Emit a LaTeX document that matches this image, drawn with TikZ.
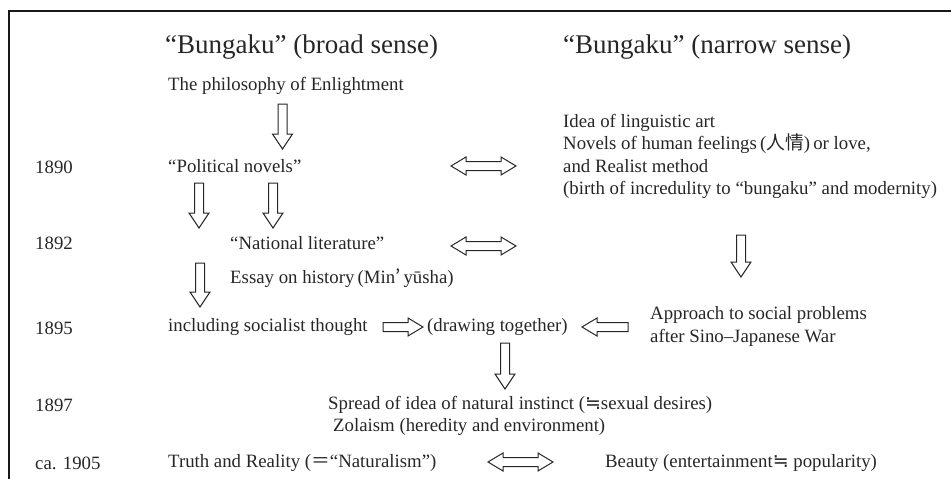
\documentclass[tikz,border=0pt]{standalone}
\usepackage{fontspec}
\setmainfont{Liberation Serif}
\newfontfamily\cjk{Noto Sans CJK JP}
\newfontfamily\symf{DejaVu Sans}
% block arrows (all numbers in px of the reference)
\newcommand\myDown[3]{% x, ytop, ytip
  \draw[blk] ({#1-4.5},#2) -- ({#1+4.5},#2) -- ({#1+4.5},{#3-15}) -- ({#1+10},{#3-15})
    -- (#1,#3) -- ({#1-10},{#3-15}) -- ({#1-4.5},{#3-15}) -- cycle;}
\newcommand\myRight[3]{% xtail, xtip, y
  \draw[blk] (#1,{#3-4.5}) -- ({#2-15},{#3-4.5}) -- ({#2-15},{#3-9}) -- (#2,#3)
    -- ({#2-15},{#3+9}) -- ({#2-15},{#3+4.5}) -- (#1,{#3+4.5}) -- cycle;}
\newcommand\myLeft[3]{% xtip, xtail, y
  \draw[blk] (#2,{#3-4.5}) -- ({#1+15},{#3-4.5}) -- ({#1+15},{#3-9}) -- (#1,#3)
    -- ({#1+15},{#3+9}) -- ({#1+15},{#3+4.5}) -- (#2,{#3+4.5}) -- cycle;}
\newcommand\myBoth[3]{% x1, x2, y
  \draw[blk] (#1,#3) -- ({#1+15},{#3-9}) -- ({#1+15},{#3-4.5}) -- ({#2-15},{#3-4.5})
    -- ({#2-15},{#3-9}) -- (#2,#3) -- ({#2-15},{#3+9}) -- ({#2-15},{#3+4.5})
    -- ({#1+15},{#3+4.5}) -- ({#1+15},{#3+9}) -- cycle;}
\newcommand\approxim{{\symf\fontsize{19}{22}\selectfont ≒}}
\begin{document}
\begin{tikzpicture}[x=1pt,y=-1pt,
  txt/.style={anchor=west,inner sep=0pt,font=\fontsize{18.8}{22.3}\selectfont,text=black!85,align=left},
  hd/.style={anchor=west,inner sep=0pt,font=\fontsize{27}{31}\selectfont,text=black!85},
  blk/.style={draw=black!85,line width=1pt,fill=white,line join=miter}]
\useasboundingbox (0,0) rectangle (951,479);
\draw[line width=2pt,black!90] (9,479) -- (9,11) -- (951,11);

% headings
\node[hd] (hb) at (165,47) {“Bungaku” (broad sense)};
\node[hd] (hn) at (563,47) {“Bungaku” (narrow sense)};

% years
\node[txt] (y1890) at (35,167) {1890};
\node[txt] (y1892) at (35,243) {1892};
\node[txt] (y1895) at (35,328) {1895};
\node[txt] (y1897) at (35,405) {1897};
\node[txt] (y1905) at (35,463) {ca. 1905};

% left column
\node[txt] (enl) at (168,86) {The philosophy of Enlightment};
\node[txt] (pol) at (168,166) {“Political novels”};
\node[txt] (nat) at (230,243) {“National literature”};
\node[txt] (ess) at (230,278) {Essay on history\,(Min{\cjk ’}\,yūsha)};
\node[txt] (soc) at (168,327) {including socialist thought};
\node[txt] (draw) at (427,327) {(drawing together)};
\node[txt] (spr) at (328,405) {Spread of idea of natural instinct (\approxim sexual desires)};
\node[txt] (zol) at (333,427) {Zolaism (heredity and environment)};
\node[txt] (tru) at (168,463) {Truth and Reality ({\cjk ＝}“Naturalism”)};

% right column
\node[txt] (idea) at (563,156.5) {Idea of linguistic art\\
  Novels of human feelings\,({\cjk 人情})\,or love,\\
  and Realist method\\
  (birth of incredulity to “bungaku” and modernity)};
\node[txt] (app) at (650,326.5) {Approach to social problems\\after Sino–Japanese War};
\node[txt] (bea) at (605,463) {Beauty (entertainment\approxim\ popularity)};

% arrows
\myDown{282.5}{104}{149}
\myDown{199}{183}{228}
\myDown{273}{183}{228}
\myDown{741}{235}{277}
\myDown{200}{263}{307}
\myDown{505}{343}{389}
\myBoth{451}{516}{166}
\myBoth{451}{516}{246}
\myBoth{488}{553}{462}
\myRight{383}{423}{327}
\myLeft{582}{628}{327}
\end{tikzpicture}
\end{document}
